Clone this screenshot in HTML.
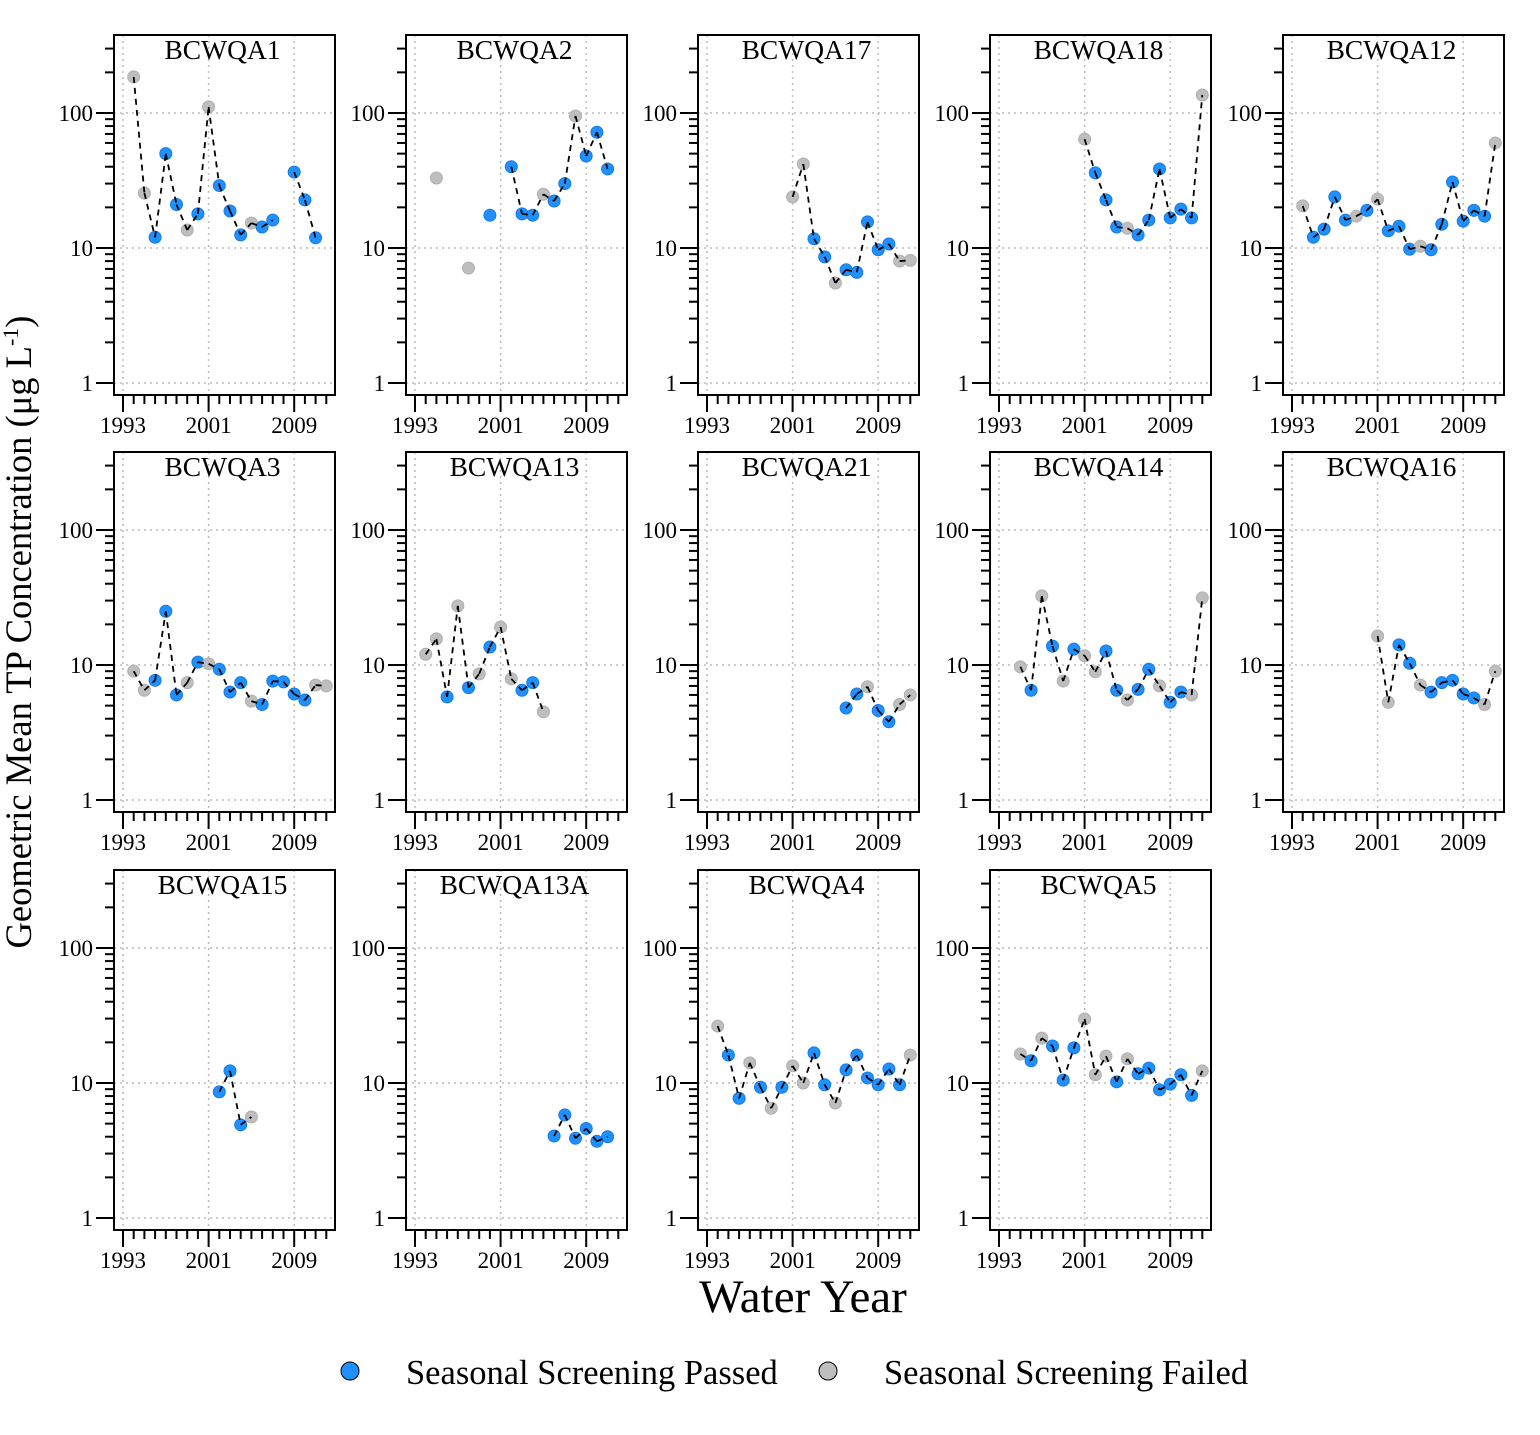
<!DOCTYPE html>
<html><head><meta charset="utf-8"><style>
body{margin:0;background:#fff}
svg text{font-family:"Liberation Serif",serif}
</style></head><body>
<svg id="chart" width="1540" height="1430" xmlns="http://www.w3.org/2000/svg">
<text transform="translate(31,632) rotate(-90)" text-anchor="middle" font-size="36.5">Geometric Mean TP Concentration (μg L<tspan font-size="22" dy="-13">-1</tspan><tspan dy="13">)</tspan></text>
<text x="803" y="1312" text-anchor="middle" font-size="47">Water Year</text>
<g>
<circle cx="350" cy="1371" r="9" fill="#1E90FF" stroke="#000" stroke-width="1"/>
<text x="406" y="1384" font-size="34.5">Seasonal Screening Passed</text>
<circle cx="828" cy="1371" r="9" fill="#BEBEBE" stroke="#000" stroke-width="1"/>
<text x="884" y="1384" font-size="34.5">Seasonal Screening Failed</text>
</g>
</svg>
<script>
const siteNames=["BCWQA1","BCWQA2","BCWQA17","BCWQA18","BCWQA12","BCWQA3","BCWQA13","BCWQA21","BCWQA14","BCWQA16","BCWQA15","BCWQA13A","BCWQA4","BCWQA5"];
// each: [year, value, passed(1)/failed(0)]
const siteData=[
[[1994,185,0],[1995,25.5,0],[1996,12,1],[1997,50,1],[1998,21,1],[1999,13.6,0],[2000,17.9,1],[2001,111,0],[2002,29,1],[2003,18.8,1],[2004,12.5,1],[2005,15.3,0],[2006,14.3,1],[2007,16.1,1],[2009,36.5,1],[2010,22.7,1],[2011,11.9,1]],
[[1995,33,0],[1998,7.1,0],[2000,17.5,1],[2002,40,1],[2003,17.9,1],[2004,17.5,1],[2005,25,0],[2006,22.3,1],[2007,30,1],[2008,95,0],[2009,48,1],[2010,72,1],[2011,38.5,1]],
[[2001,23.9,0],[2002,41.9,0],[2003,11.7,1],[2004,8.6,1],[2005,5.5,0],[2006,6.9,1],[2007,6.6,1],[2008,15.6,1],[2009,9.7,1],[2010,10.7,1],[2011,8,0],[2012,8.1,0]],
[[2001,64,0],[2002,36,1],[2003,22.7,1],[2004,14.3,1],[2005,14,0],[2006,12.5,1],[2007,16.1,1],[2008,38.5,1],[2009,16.7,1],[2010,19.4,1],[2011,16.7,1],[2012,136,0]],
[[1994,20.5,0],[1995,12,1],[1996,13.8,1],[1997,23.9,1],[1998,16.1,1],[1999,17.2,0],[2000,19,1],[2001,23,0],[2002,13.4,1],[2003,14.5,1],[2004,9.8,1],[2005,10.3,0],[2006,9.7,1],[2007,15,1],[2008,30.8,1],[2009,15.8,1],[2010,19,1],[2011,17.2,1],[2012,60,0]],
[[1994,9,0],[1995,6.5,0],[1996,7.7,1],[1997,25,1],[1998,6,1],[1999,7.4,0],[2000,10.5,1],[2001,10.2,0],[2002,9.3,1],[2003,6.3,1],[2004,7.4,1],[2005,5.4,0],[2006,5.1,1],[2007,7.6,1],[2008,7.5,1],[2009,6.1,1],[2010,5.5,1],[2011,7.1,0],[2012,7,0]],
[[1994,12,0],[1995,15.6,0],[1996,5.8,1],[1997,27.4,0],[1998,6.8,1],[1999,8.6,0],[2000,13.6,1],[2001,19.1,0],[2002,7.9,0],[2003,6.5,1],[2004,7.4,1],[2005,4.5,0]],
[[2006,4.8,1],[2007,6.1,1],[2008,6.9,0],[2009,4.6,1],[2010,3.8,1],[2011,5.1,0],[2012,6,0]],
[[1995,9.7,0],[1996,6.5,1],[1997,32.5,0],[1998,13.8,1],[1999,7.6,0],[2000,13.1,1],[2001,11.7,0],[2002,8.9,0],[2003,12.7,1],[2004,6.5,1],[2005,5.5,0],[2006,6.6,1],[2007,9.3,1],[2008,7,0],[2009,5.3,1],[2010,6.3,1],[2011,6,0],[2012,31.4,0]],
[[2001,16.4,0],[2002,5.3,0],[2003,14.1,1],[2004,10.3,1],[2005,7.1,0],[2006,6.3,1],[2007,7.4,1],[2008,7.7,1],[2009,6.1,1],[2010,5.7,1],[2011,5.1,0],[2012,9,0]],
[[2002,8.6,1],[2003,12.3,1],[2004,4.9,1],[2005,5.6,0]],
[[2006,4.05,1],[2007,5.8,1],[2008,3.9,1],[2009,4.6,1],[2010,3.7,1],[2011,4,1]],
[[1994,26.4,0],[1995,16.1,1],[1996,7.7,1],[1997,14.1,0],[1998,9.3,1],[1999,6.5,0],[2000,9.3,1],[2001,13.4,0],[2002,10,0],[2003,16.7,1],[2004,9.7,1],[2005,7.1,0],[2006,12.5,1],[2007,16.1,1],[2008,10.9,1],[2009,9.7,1],[2010,12.7,1],[2011,9.7,1],[2012,16.1,0]],
[[1995,16.4,0],[1996,14.6,1],[1997,21.5,0],[1998,18.8,1],[1999,10.5,1],[2000,18.2,1],[2001,29.8,0],[2002,11.5,0],[2003,15.8,0],[2004,10.2,1],[2005,15.1,0],[2006,11.7,1],[2007,12.9,1],[2008,8.9,1],[2009,9.8,1],[2010,11.5,1],[2011,8.1,1],[2012,12.3,0]]
];
const yTickValues=[1,10,100];
const xTickLabels=[1993,2001,2009];

const NS="http://www.w3.org/2000/svg";
const svg=document.getElementById('chart');
function mk(tag,attrs,parent){const e=document.createElementNS(NS,tag);for(const k in attrs)e.setAttribute(k,attrs[k]);parent.appendChild(e);return e;}
const colX=[114,406,698,990,1283], rowY=[35,452,870], PW=221, PH=360;
siteNames.forEach((name,i)=>{
  const ox=colX[i%5], oy=rowY[Math.floor(i/5)];
  const X=yr=>ox+9+(yr-1993)*10.7;
  const Y=v=>oy+348-135*Math.log10(v);
  const g=mk('g',{},svg);
  
  
  yTickValues.forEach(v=>{mk('line',{x1:ox,x2:ox+PW,y1:Y(v),y2:Y(v),stroke:'#bbb','stroke-width':1.5,'stroke-dasharray':'2,4'},g);});
  xTickLabels.forEach(y=>{mk('line',{x1:X(y),x2:X(y),y1:oy,y2:oy+PH,stroke:'#bbb','stroke-width':1.5,'stroke-dasharray':'2,4'},g);});
  for(let d=0;d<3;d++)for(let m=1;m<=9;m++){const v=m*Math.pow(10,d);if(Y(v)<oy)continue;
    mk('line',{x1:ox-(m==1?18:9),x2:ox,y1:Y(v),y2:Y(v),stroke:'#000','stroke-width':2},g);}
  yTickValues.forEach(v=>{const t=mk('text',{x:ox-21,y:Y(v)+8,'text-anchor':'end','font-size':23},g);t.textContent=v;
    
    });
  for(let y=1993;y<=2012;y++){const maj=(y-1993)%8==0;
    mk('line',{x1:X(y),x2:X(y),y1:oy+PH,y2:oy+PH+(maj?17:9),stroke:'#000','stroke-width':2},g);}
  xTickLabels.forEach(y=>{const t=mk('text',{x:X(y),y:oy+PH+38,'text-anchor':'middle','font-size':23},g);t.textContent=y;
    
    });
  const pts=siteData[i];
  pts.forEach(p=>{const c=mk('circle',{cx:X(p[0]),cy:Y(p[1]),r:6,fill:p[2]?'#1E90FF':'#BEBEBE',stroke:p[2]?'#1a7ae0':'#b0b0b0','stroke-width':1},g);
    
    });
  for(let k=1;k<pts.length;k++){if(pts[k][0]-pts[k-1][0]!==1)continue;
    mk('line',{x1:X(pts[k-1][0]),y1:Y(pts[k-1][1]),x2:X(pts[k][0]),y2:Y(pts[k][1]),stroke:'#000','stroke-width':1.8,'stroke-dasharray':'6,5'},g);}
  mk('rect',{x:ox,y:oy,width:PW,height:PH,fill:'none',stroke:'#000','stroke-width':2},g);
  const t=mk('text',{x:ox+PW/2-2,y:oy+24,'text-anchor':'middle','font-size':27.5},g);t.textContent=name;
  
  
});
</script>
</body></html>
